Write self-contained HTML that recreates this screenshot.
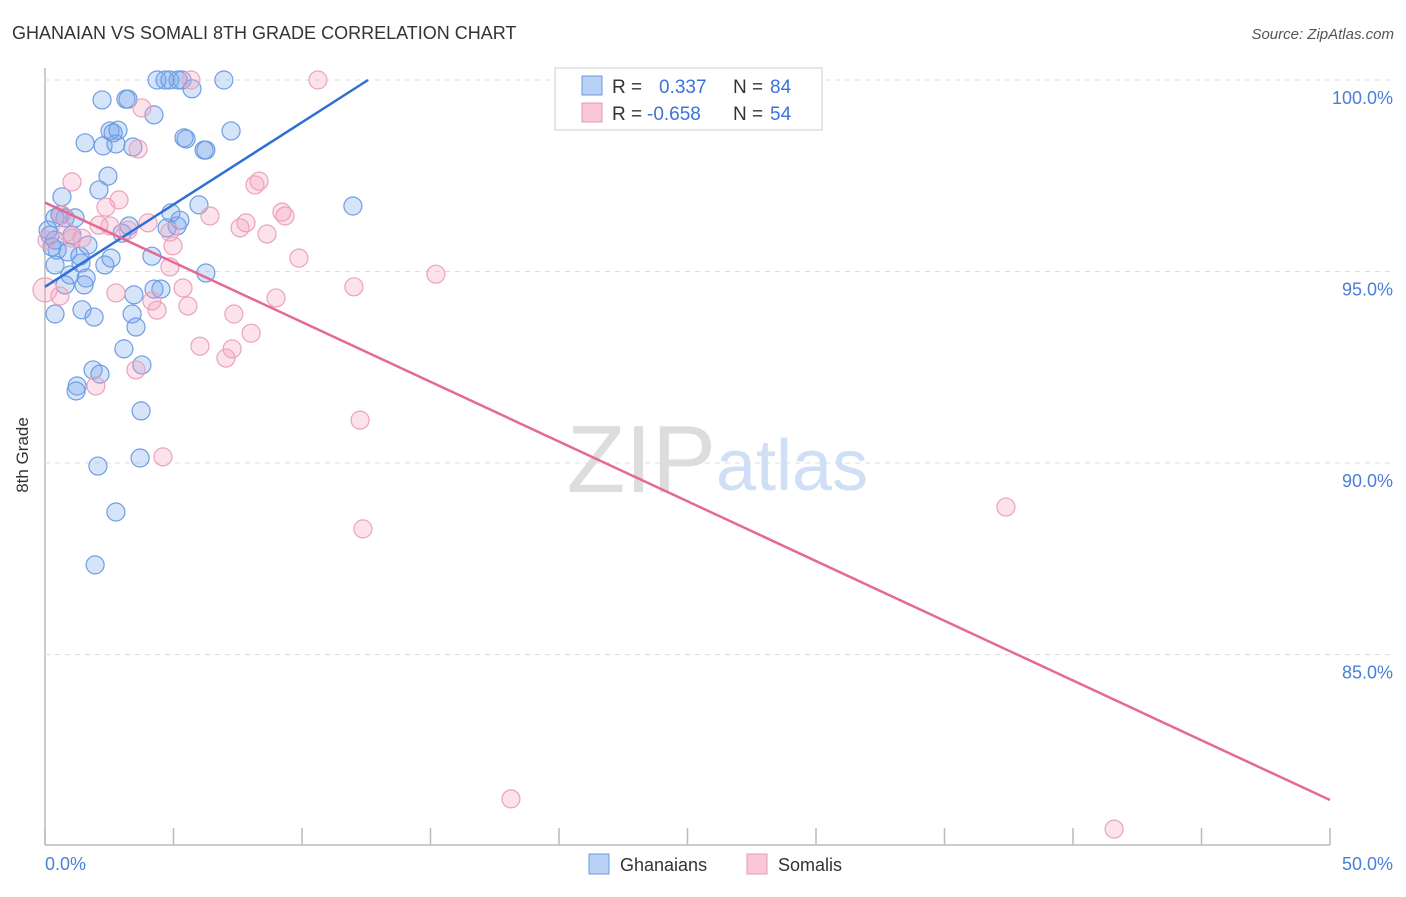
<!DOCTYPE html>
<html><head><meta charset="utf-8"><style>
body{margin:0;background:#fff;font-family:"Liberation Sans",sans-serif;}
svg text{font-family:"Liberation Sans",sans-serif;}
</style></head><body>
<svg id="c" width="1406" height="892">
<text x="12" y="39" font-size="18" fill="#333">GHANAIAN VS SOMALI 8TH GRADE CORRELATION CHART</text>
<text x="1394" y="39" font-size="15" fill="#555" font-style="italic" text-anchor="end">Source: ZipAtlas.com</text>
<text x="28" y="455" font-size="17" fill="#333" transform="rotate(-90 28 455)" text-anchor="middle">8th Grade</text>
<text x="716" y="492" font-size="96" fill="#ddd" text-anchor="end" font-family="Liberation Serif">ZIP</text>
<text x="716" y="490" font-size="72" fill="#cfdff5">atlas</text>
<g id="grid"></g><g id="pts"></g><g id="lines"></g>
<g>
<rect x="555" y="68" width="267" height="62" fill="#fff" stroke="#ccc"/>
<rect x="582" y="76" width="20" height="19" fill="#b8d1f5" stroke="#6a9ae0"/>
<text x="612" y="93" font-size="19" fill="#333">R = </text><text x="659" y="93" font-size="19" fill="#3b73d6">0.337</text>
<text x="733" y="93" font-size="19" fill="#333">N = </text><text x="770" y="93" font-size="19" fill="#3b73d6">84</text>
<rect x="582" y="103" width="20" height="19" fill="#f9c7d6" stroke="#e899b3"/>
<text x="612" y="120" font-size="19" fill="#333">R = </text><text x="647" y="120" font-size="19" fill="#3b73d6">-0.658</text>
<text x="733" y="120" font-size="19" fill="#333">N = </text><text x="770" y="120" font-size="19" fill="#3b73d6">54</text>
</g>
<g>
<rect x="589" y="854" width="20" height="20" fill="#b8d1f5" stroke="#6a9ae0"/>
<text x="620" y="871" font-size="18" fill="#333">Ghanaians</text>
<rect x="747" y="854" width="20" height="20" fill="#f9c7d6" stroke="#e899b3"/>
<text x="778" y="871" font-size="18" fill="#333">Somalis</text>
</g>
</svg>
<script>
const yTicks=[100,95,90,85];
const xTickVals=[0,5,10,15,20,25,30,35,40,45,50];
const blueX=[4.36,4.67,4.86,5.18,5.33,6.96,5.72,2.22,3.15,3.23,4.24,1.56,2.26,2.53,2.65,2.84,2.76,3.42,5.41,5.49,6.19,6.26,7.24,2.45,0.66,2.10,0.39,0.58,0.78,1.17,1.05,0.19,0.39,3.00,3.27,4.75,5.14,5.25,4.90,5.99,11.98,0.47,0.89,1.36,1.67,2.57,2.33,1.60,0.97,1.52,0.78,4.16,6.26,0.39,1.40,3.46,4.24,4.51,0.39,1.44,1.91,3.39,3.54,3.07,1.87,2.14,1.25,1.21,3.77,3.74,2.06,3.70,2.76,1.95,0.12,0.27];
const blueY=[100,100,100,100,100,100,99.77,99.48,99.5,99.5,99.09,98.36,98.28,98.67,98.62,98.69,98.33,98.25,98.49,98.46,98.17,98.17,98.67,97.49,96.95,97.13,96.4,96.48,96.4,96.4,95.95,95.95,95.82,96.0,96.19,96.14,96.19,96.34,96.53,96.74,96.71,95.56,95.51,95.4,95.69,95.35,95.17,94.83,94.91,94.65,94.65,95.4,94.96,95.17,95.22,94.39,94.54,94.54,93.89,94.0,93.81,93.89,93.55,92.98,92.43,92.32,92.01,91.88,92.56,91.36,89.92,90.13,88.72,87.34,96.08,95.64];
const pinkX=[5.68,10.62,3.77,3.62,1.05,2.88,2.37,8.17,8.33,6.42,7.82,7.59,8.64,9.22,9.34,2.10,3.23,4.01,1.05,0.66,0.08,0.86,4.86,4.98,9.88,4.86,5.37,2.76,4.16,4.36,5.56,7.35,8.99,12.02,15.21,6.03,7.04,7.28,8.02,3.54,1.98,4.59,12.26,12.37,37.39,18.13,41.6,0,0.58,1.44,2.53];
const pinkY=[100,100,99.27,98.2,97.34,96.87,96.68,97.26,97.36,96.45,96.27,96.14,95.98,96.55,96.45,96.21,96.08,96.27,95.87,96.48,95.82,96.03,96.03,95.67,95.35,95.12,94.57,94.44,94.23,93.99,94.1,93.89,94.31,94.6,94.93,93.05,92.74,92.98,93.39,92.43,92.01,90.16,91.12,88.28,88.85,81.23,80.44,94.52,94.36,95.87,96.19];
const blueTrend=[[0,94.6],[12.57,100]];
const pinkTrend=[[0,96.8],[50,81.2]];
const NS="http://www.w3.org/2000/svg";
const xs=v=>45+v/50*1285, ys=v=>80+(100-v)*38.3;
function mk(t,a,p){const e=document.createElementNS(NS,t);for(const k in a)e.setAttribute(k,a[k]);p.appendChild(e);return e;}
const g=document.getElementById('grid');
const ax=mk('line',{x1:45,y1:68,x2:45,y2:845,stroke:'#bbb','stroke-width':1.5},g);


const bx=mk('line',{x1:45,y1:845,x2:1330,y2:845,stroke:'#bbb','stroke-width':1.5},g);


yTicks.forEach(v=>{const l=mk('line',{x1:45,x2:1392,y1:ys(v),y2:ys(v),stroke:'#ddd','stroke-dasharray':'5,5'},g);


const t=mk('text',{x:1393,y:ys(v)+24,'font-size':18,fill:'#4a7fd8','text-anchor':'end'},g);t.textContent=v.toFixed(1)+'%';

});
xTickVals.forEach(v=>{const l=mk('line',{x1:xs(v),x2:xs(v),y1:828,y2:845,stroke:'#bbb','stroke-width':1.5},g);

});
[[0,'start'],[50,'end']].forEach(([v,a])=>{const t=mk('text',{x:v?1393:45,y:870,'font-size':18,fill:'#4a7fd8','text-anchor':a},g);t.textContent=v.toFixed(1)+'%';

});
const p=document.getElementById('pts');
function dots(X,Y,fill,st,name){X.forEach((x,i)=>{const c=mk('circle',{cx:xs(x),cy:ys(Y[i]),r:(x===0?12:9),fill:fill,stroke:st,'stroke-width':1.2},p);

});}
dots(blueX,blueY,'rgba(120,165,235,0.3)','#6f9de3','ghanaian-point');
dots(pinkX,pinkY,'rgba(245,160,190,0.3)','#eaa3bb','somali-point');
const L=document.getElementById('lines');
const b=mk('line',{x1:xs(blueTrend[0][0]),y1:ys(blueTrend[0][1]),x2:xs(blueTrend[1][0]),y2:ys(blueTrend[1][1]),stroke:'#2f6fd6','stroke-width':2.5},L);


const k=mk('line',{x1:xs(pinkTrend[0][0]),y1:ys(pinkTrend[0][1]),x2:xs(pinkTrend[1][0]),y2:ys(pinkTrend[1][1]),stroke:'#e56a93','stroke-width':2.5},L);


</script>
</body></html>
